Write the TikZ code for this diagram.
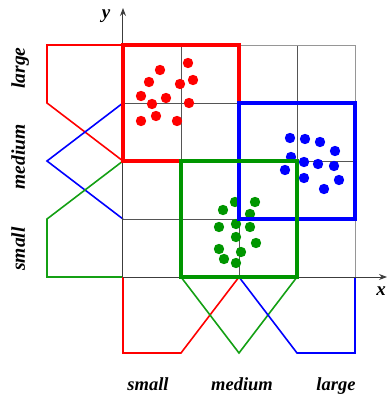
\documentclass[tikz,border=0pt]{standalone}
\usepackage{fontspec}
\newfontfamily\lblfont{Liberation Serif}
\usetikzlibrary{arrows.meta}
\definecolor{gridin}{RGB}{85,85,85}
\definecolor{gridout}{RGB}{150,150,150}
\definecolor{axisc}{RGB}{60,60,60}
\definecolor{myred}{RGB}{255,0,0}
\definecolor{myblue}{RGB}{0,0,255}
\definecolor{mygreen}{RGB}{0,150,0}
\definecolor{mflgreen}{RGB}{20,160,20}
\tikzset{
  dotr/.style={fill=myred,draw=none},
  dotb/.style={fill=myblue,draw=none},
  dotg/.style={fill=mygreen,draw=none},
  mfline/.style={line width=1.6pt,line join=miter},
  boxline/.style={line width=3.7pt,line join=miter},
  lbl/.style={font=\lblfont\fontsize{18.5}{20}\selectfont\bfseries\itshape,inner sep=0pt,anchor=base},
  lbll/.style={font=\lblfont\fontsize{19.5}{21}\selectfont\bfseries\itshape,inner sep=0pt,anchor=base,rotate=90},
  axlbl/.style={font=\lblfont\fontsize{19}{21}\selectfont\bfseries\itshape,inner sep=0pt},
  axisline/.style={line width=1pt,draw=axisc,-{Stealth[length=8pt,width=6pt]}}
}
\begin{document}
\begin{tikzpicture}[x=1pt,y=1pt]
\useasboundingbox (-123,-117) rectangle (265,277);
% grid
\draw[gridin,line width=0.8pt] (58,0) -- (58,232) (116,0) -- (116,232) (174,0) -- (174,232);
\draw[gridin,line width=0.8pt] (0,58) -- (232,58) (0,116) -- (232,116) (0,174) -- (232,174);
\draw[gridout,line width=0.8pt] (0,232) -- (232,232) -- (232,0);
% dots
\foreach \p in {(37,207),(65,214),(26,195),(70,197),(57,193),(18,181),(43,179),(29,173),(66,174),(18,156),(33,161),(54,156)}
  \fill[dotr] \p circle (5.2);
\foreach \p in {(167,139),(182,138),(197,135),(212,126),(168,120),(181,115),(195,113),(211,111),(162,107),(181,99),(216,97),(201,88)}
  \fill[dotb] \p circle (5.2);
\foreach \p in {(112,75),(132,75),(100,67),(127,63),(96,50),(113,53),(127,50),(113,40),(133,34),(96,28),(118,25),(101,18),(113,14)}
  \fill[dotg] \p circle (5.2);
% membership functions, left (y)
\draw[mfline,myred] (0,232) -- (-76,232) -- (-76,174) -- (0,116);
\draw[mfline,myblue] (0,174) -- (-76,116) -- (0,58);
\draw[mfline,mflgreen] (0,116) -- (-76,58) -- (-76,0) -- (0,0);
% membership functions, bottom (x)
\draw[mfline,myred] (0,0) -- (0,-76) -- (58,-76) -- (116,0);
\draw[mfline,mflgreen] (58,0) -- (116,-76) -- (174,0);
\draw[mfline,myblue] (116,0) -- (174,-76) -- (232,-76) -- (232,0);
% axes
\coordinate (O) at (0,0);
\coordinate (xend) at (264,0);
\coordinate (yend) at (0,269);
\draw[axisline] (O) -- (xend);
\draw[axisline] (O) -- (yend);
\node[axlbl] (xl) at (258,-14) {x};
\node[axlbl] (yl) at (-17,261) {y};
% cluster boxes
\draw[boxline,myred] (0,116) rectangle (116,232);
\draw[boxline,myblue] (116,58) rectangle (232,174);
\draw[boxline,mygreen] (58,0) rectangle (174,116);
% labels
\node[lbl] (bsmall) at (25,-113) {small};
\node[lbl] (bmedium) at (119,-113) {medium};
\node[lbl] (blarge) at (213,-113) {large};
\node[lbll] (llarge) at (-98,209) {large};
\node[lbll] (lmedium) at (-98,120) {medium};
\node[lbll] (lsmall) at (-98,28) {small};
\end{tikzpicture}
\end{document}
